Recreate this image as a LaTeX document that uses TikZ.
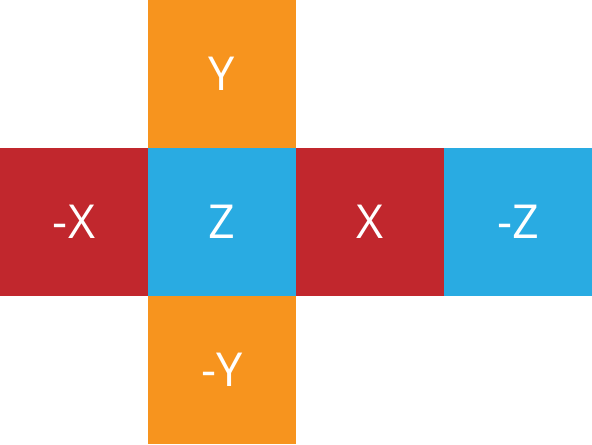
\documentclass[tikz,border=0pt]{standalone}
\usepackage{fontspec}
\setmainfont{Open Sans}
\usepackage{tikz}
\usetikzlibrary{positioning}
\definecolor{cubered}{HTML}{C1272D}
\definecolor{cubeblue}{HTML}{29ABE2}
\definecolor{cubeorange}{HTML}{F7941E}

\begin{document}
\begin{tikzpicture}[
  face/.style={fill=#1, minimum size=2cm, inner sep=0pt, outer sep=0pt,
               text=white, font=\fontsize{18}{18}\selectfont}]
  \useasboundingbox (0,0) rectangle (8,6);
  % --- middle row ---
  \foreach \nm/\lab/\col [count=\i from 0] in {mx/-X/cubered, pz/Z/cubeblue,
                                              px/X/cubered, mz/-Z/cubeblue}{
    \node[face=\col] (\nm) at (1+\i*2,3) {\lab};
  }
  % --- top and bottom ---
  \node[face=cubeorange, above=0pt of pz] (py) {Y};
  \node[face=cubeorange, below=0pt of pz] (my) {-Y};
\end{tikzpicture}
\end{document}
